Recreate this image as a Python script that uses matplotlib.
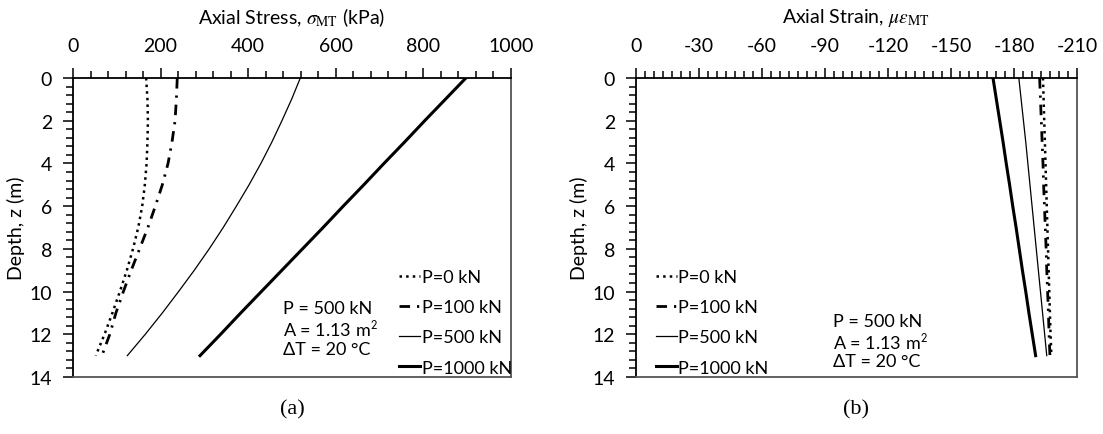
import numpy as np
import matplotlib
matplotlib.use("Agg")
import matplotlib.pyplot as plt
from matplotlib.ticker import MultipleLocator

plt.rcParams['font.family'] = ['Lato', 'DejaVu Sans']
plt.rcParams['mathtext.fontset'] = 'stix'
plt.rcParams['axes.unicode_minus'] = False

# depth below pile head (m)
depth = [0, 1, 2, 3, 4, 5, 6, 7, 8, 9, 10, 11, 12, 13]

# (a) axial stress, kPa
stress_p0 = [167, 170, 171, 170, 168, 164, 158, 149, 137, 123, 107, 90, 72, 52]
stress_p100 = [238, 236, 233, 226, 217, 204, 188, 171, 152, 133, 115, 98, 84, 66]
stress_p500 = [519, 499, 477, 454, 429, 402, 373, 343, 311, 277, 241, 204, 165, 124]
stress_p1000 = [897, 850, 803, 757, 710, 664, 617, 571, 524, 477, 430, 383, 337, 290]

# (b) axial strain, micro-strain
strain_p0 = [-193.8, -194.1, -194.4, -194.7, -195.0, -195.3, -195.6, -195.9,
             -196.2, -196.5, -196.8, -197.1, -197.4, -197.8]
strain_p100 = [-192.2, -192.6, -193.0, -193.4, -193.8, -194.1, -194.5, -194.9,
               -195.3, -195.6, -196.0, -196.4, -196.7, -197.1]
strain_p500 = [-182.3, -183.4, -184.5, -185.6, -186.6, -187.6, -188.6, -189.6,
               -190.6, -191.6, -192.6, -193.6, -194.6, -195.6]
strain_p1000 = [-170.0, -171.6, -173.2, -174.8, -176.3, -177.9, -179.4, -181.0,
                -182.5, -184.0, -185.6, -187.1, -188.7, -190.3]

labels = ["P=0 kN", "P=100 kN", "P=500 kN", "P=1000 kN"]
note = "P = 500 kN\nA = 1.13 m$^{\\mathsf{2}}$\n\u0394T = 20 \u00b0C"

W, H = 1103, 435
fig = plt.figure(figsize=(W / 100, H / 100), dpi=100)
ax1 = fig.add_axes([73 / W, 1 - 378 / H, 438 / W, 299 / H])
ax2 = fig.add_axes([636 / W, 1 - 378 / H, 441 / W, 299 / H])


def draw(ax, series):
    styles = [dict(ls=':', lw=1.8),
              dict(ls=(0, (3.8, 2.5, 0.8, 2.5)), lw=2.0),
              dict(ls='-', lw=0.9),
              dict(ls='-', lw=2.2)]
    for vals, lab, st in zip(series, labels, styles):
        ax.plot(vals, depth, color='black', label=lab, **st)


draw(ax1, [stress_p0, stress_p100, stress_p500, stress_p1000])
draw(ax2, [strain_p0, strain_p100, strain_p500, strain_p1000])

ax1.set_xlim(0, 1000)
ax1.xaxis.set_major_locator(MultipleLocator(200))
ax1.xaxis.set_minor_locator(MultipleLocator(40))
ax2.set_xlim(0, -210)
ax2.set_xticks(np.arange(0, -211, -30))
ax2.xaxis.set_minor_locator(MultipleLocator(30 / 7))

for ax in (ax1, ax2):
    ax.set_ylim(14, 0)
    ax.yaxis.set_major_locator(MultipleLocator(2))
    ax.yaxis.set_minor_locator(MultipleLocator(0.4))
    ax.xaxis.tick_top()
    ax.tick_params(which='both', direction='out', width=1.1, labelsize=14,
                   top=True, bottom=False, left=True, right=False)
    ax.tick_params(which='major', length=7)
    ax.tick_params(which='minor', length=5)
    ax.tick_params(axis='x', pad=10)
    ax.tick_params(axis='y', pad=8)
    for s in ('top', 'left'):
        ax.spines[s].set_linewidth(1.3)
        ax.spines[s].set_color('black')
    for s in ('bottom', 'right'):
        ax.spines[s].set_linewidth(1.3)
        ax.spines[s].set_color('#555555')
    ax.set_ylabel("Depth, z (m)", fontsize=14, labelpad=3)

for ax, x0 in ((ax1, 0.745), (ax2, 0.045)):
    ax.legend(loc='lower left', bbox_to_anchor=(x0, 0.005), frameon=False,
              fontsize=13, handlelength=1.15, handletextpad=0.1,
              labelspacing=0.78, borderpad=0, borderaxespad=0)

ax1.text(480, 10.4, note, fontsize=13, va='top', linespacing=1.15)
ax2.text(-94, 11.0, note, fontsize=13, va='top', linespacing=1.15)

fig.text(292 / W, 1 - 18 / H, r"Axial Stress, $\sigma_{\rm MT}$ (kPa)",
         ha='center', va='center', fontsize=14)
fig.text(856 / W, 1 - 18 / H, r"Axial Strain, $\mu\varepsilon_{\rm MT}$",
         ha='center', va='center', fontsize=14)
fig.text(292 / W, 1 - 410 / H, "(a)", ha='center', va='center', fontsize=16,
         family='Liberation Serif')
fig.text(856 / W, 1 - 410 / H, "(b)", ha='center', va='center', fontsize=16,
         family='Liberation Serif')

fig.savefig("out.png", dpi=100)
